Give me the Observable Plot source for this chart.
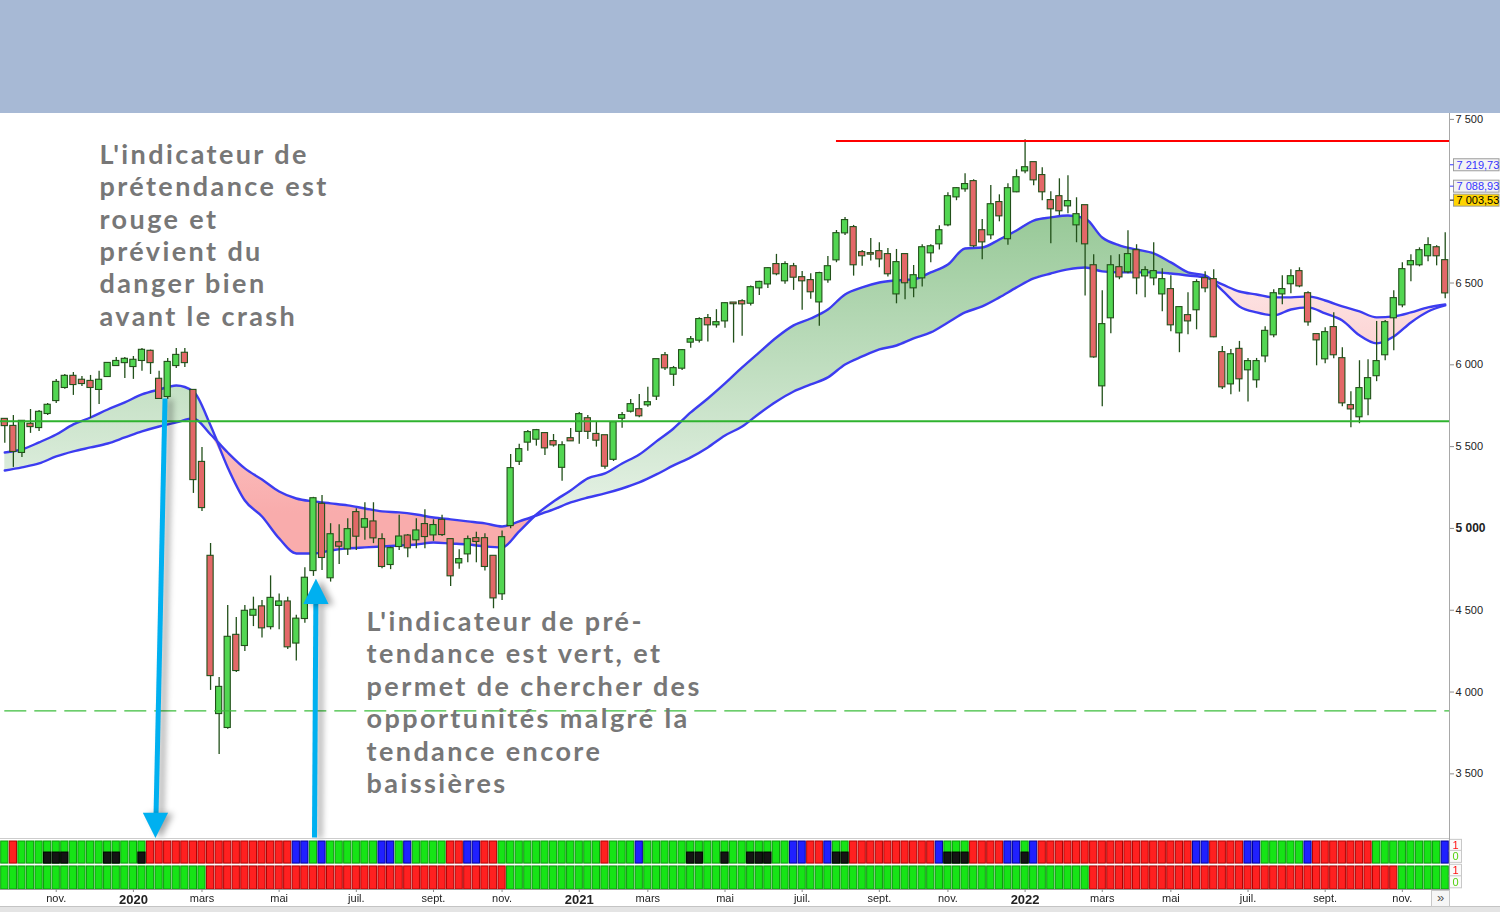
<!DOCTYPE html>
<html>
<head>
<meta charset="utf-8">
<script src="https://cdn.jsdelivr.net/npm/d3@7"></script>
<script src="https://cdn.jsdelivr.net/npm/@observablehq/plot@0.6"></script>
<style>
html,body{margin:0;padding:0;background:#fff;width:1500px;height:912px;overflow:hidden;font-family:"Liberation Sans",Arial,sans-serif}
#page{position:relative;width:1500px;height:912px}
#top{height:113px;background:#a7b9d5}
#main{height:724px}
#panel{height:69px}
#bottom{height:6px;background:#e4e4e4;border-top:1px solid #c4c4c4;box-sizing:border-box}
#vline{position:absolute;left:1449px;top:113px;width:1px;height:793px;background:#a8a8a8}
#hline{position:absolute;left:0;top:838px;width:1449px;height:1px;background:#cdcdcd}
#more{position:absolute;left:1431px;top:890px;width:17px;height:15px;border:1px solid #c8c8c8;background:#f6f6f6;color:#555;font-size:13px;line-height:13px;text-align:center}
svg{display:block}
</style>
</head>
<body>
<div id="page">
  <div id="top"></div>
  <div id="main"></div>
  <div id="panel"></div>
  <div id="bottom"></div>
  <div id="vline"></div>
  <div id="hline"></div>
  <div id="more">»</div>
</div>
<script>
// ---- weekly candles (CAC 40, from week of 23 Sept 2019), index = week number ----
const open = [5666,5623,5465,5636,5617,5703,5782,5862,5929,5905,5898,5850,5929,5996,6014,5990,6027,6082,5911,5807,5996,6070,5843,5403,4829,3869,3784,4346,4285,4470,4520,4400,4530,4550,4300,4450,4743,5147,4699,4912,4876,5096,5008,5039,4931,4780,4890,4953,4931,5023,4961,5049,4931,4790,4845,4937,4937,4829,4601,5018,5411,5528,5546,5579,5530,5374,5548,5594,5670,5574,5566,5423,5674,5717,5725,5756,5809,6055,5943,5980,6139,6151,6282,6245,6269,6377,6385,6377,6471,6495,6612,6514,6599,6532,6514,6385,6520,6642,6807,6838,6685,6679,6691,6673,6434,6673,6471,6532,6685,6740,6856,7027,7076,7119,6819,6795,6991,6771,7058,7186,7235,7156,7003,7027,6972,6856,6972,6605,5872,6288,6593,6569,6697,6544,6532,6434,6459,6196,6300,6337,6526,6520,6074,5884,6094,5970,5909,6055,6184,6434,6496,6569,6434,6184,6037,6227,6037,5750,5683,5793,5934,6062,6288,6367,6612,6612,6667,6715,6636];
const high = [5672,5690,5660,5727,5721,5764,5910,5941,5953,5929,5935,5960,6014,6045,6045,6051,6100,6090,5960,6039,6100,6100,5843,5495,4908,4089,4529,4456,4529,4580,4560,4710,4600,4580,4470,4760,5190,5202,5029,5023,5059,5120,5157,5157,4968,4886,5080,4963,5059,5114,5053,5080,4931,4870,4953,4977,4968,4829,4984,5452,5514,5599,5605,5585,5574,5530,5611,5709,5690,5650,5566,5646,5709,5788,5819,5863,6031,6076,5990,6094,6173,6288,6308,6337,6379,6377,6398,6481,6510,6595,6675,6630,6620,6571,6557,6565,6662,6821,6901,6852,6699,6772,6746,6711,6705,6673,6607,6734,6734,6850,7052,7082,7168,7131,6888,7096,7039,7107,7192,7376,7235,7204,7058,7137,7156,7021,6972,6673,6453,6666,6673,6819,6734,6599,6746,6587,6544,6355,6441,6520,6569,6581,6112,6094,6143,6039,6039,6233,6459,6544,6581,6593,6446,6184,6227,6318,6104,5835,6025,6031,6265,6271,6453,6624,6673,6715,6777,6728,6807];
const low = [5520,5373,5434,5581,5593,5690,5764,5850,5813,5868,5672,5758,5923,5990,5917,5911,5960,5941,5788,5788,5978,5984,5214,5104,4010,3619,3772,4120,4248,4400,4330,4380,4380,4260,4190,4420,4707,4743,4672,4780,4835,4865,4927,4907,4753,4748,4865,4821,4876,4876,4921,4951,4645,4750,4790,4790,4740,4509,4560,4998,5385,5472,5503,5446,5497,5289,5533,5515,5544,5497,5361,5409,5613,5705,5676,5741,5782,5966,5868,5966,6102,6133,6139,6224,6224,6133,6175,6359,6424,6467,6544,6493,6455,6334,6401,6236,6499,6624,6791,6542,6603,6634,6593,6536,6373,6398,6410,6475,6624,6701,6844,7003,7055,6716,6642,6765,6874,6731,7052,7168,7094,7003,6740,6911,6923,6746,6420,6040,5744,6190,6520,6557,6428,6410,6483,6324,6202,6074,6184,6214,6440,6166,5849,5817,5833,5772,5857,6013,6166,6367,6434,6471,6236,5994,6006,6037,5744,5615,5640,5689,5897,6025,6086,6349,6508,6599,6630,6605,6404];
const close = [5629,5471,5654,5623,5709,5752,5892,5929,5880,5886,5862,5905,6008,6020,6033,6027,6088,6014,5795,6014,6057,6014,5299,5128,4101,4028,4334,4132,4493,4499,4393,4572,4550,4277,4445,4695,5181,4823,4961,4892,4992,4953,5053,4943,4768,4876,4947,4882,4984,4951,5017,4963,4711,4809,4931,4921,4768,4576,4943,5365,5481,5585,5597,5493,5511,5505,5536,5695,5594,5540,5381,5646,5689,5756,5689,5768,6031,5982,5976,6086,6153,6276,6245,6257,6373,6374,6373,6471,6503,6587,6557,6612,6536,6514,6447,6557,6599,6801,6881,6612,6667,6677,6648,6557,6624,6502,6544,6715,6721,6819,7027,7076,7101,6728,6752,6978,6911,7076,7143,7204,7131,7058,6954,6942,6997,6917,6740,6049,6245,6605,6538,6673,6532,6575,6569,6520,6245,6349,6269,6502,6471,6172,5866,6061,5915,6019,6019,6204,6434,6459,6538,6483,6263,6153,6196,6062,5768,5731,5854,5915,6019,6257,6404,6581,6630,6697,6728,6667,6440];

// ---- the two blue averages, read every second week ----
const maWeek = [0,2,4,6,8,10,12,14,16,18,20,22,24,26,28,30,32,34,36,38,40,42,44,46,48,50,52,54,56,58,60,62,64,66,68,70,72,74,76,78,80,82,84,86,88,90,92,94,96,98,100,102,104,106,108,110,112,114,116,118,120,122,124,126,128,130,132,134,136,138,140,142,144,146,148,150,152,154,156,158,160,162,164,166,168];
const maFast = [5464,5483,5526,5574,5636,5678,5727,5770,5819,5849,5874,5837,5629,5373,5171,5073,4939,4847,4847,4865,4878,4884,4890,4896,4902,4914,4908,4902,4890,4884,4982,5085,5165,5232,5306,5336,5397,5452,5532,5611,5709,5794,5886,5984,6076,6167,6241,6283,6338,6430,6473,6503,6516,6522,6565,6613,6711,6717,6766,6821,6882,6901,6913,6895,6778,6730,6705,6681,6626,6565,6546,6455,6357,6320,6302,6338,6351,6314,6271,6180,6131,6173,6259,6326,6363];
const maSlow = [5354,5373,5397,5440,5471,5495,5519,5556,5593,5623,5648,5672,5574,5464,5367,5299,5226,5183,5165,5153,5141,5122,5104,5098,5085,5067,5055,5043,5031,5012,5043,5079,5116,5159,5189,5214,5244,5281,5330,5385,5434,5495,5568,5623,5703,5776,5837,5880,5923,6002,6051,6094,6118,6161,6198,6259,6320,6357,6412,6473,6528,6558,6583,6595,6571,6565,6565,6565,6558,6546,6534,6491,6448,6430,6412,6412,6418,6393,6357,6326,6290,6296,6320,6351,6369];

// ---- horizontal levels ----
const levelResistance = 7368;   // red line, from week 97
const levelSupport = 5655;      // green line
const levelLow = 3885;          // dashed green
const yTicks = [3500,4000,4500,5000,5500,6000,6500,7500];
const priceLabels = [7219.73, 7088.93, 7003.53];
const priceLabelText = ["#3535ff", "#3535ff", "#000000"];
const priceLabelBg = ["#f3f3f3", "#f3f3f3", "#ffd400"];

// ---- x ticks (first week of the month) ----
const tickWeeks = [6,15,23,32,41,50,58,67,75,84,93,102,110,119,128,136,145,154,163];
const tickLabels = ["nov.","2020","mars","mai","juil.","sept.","nov.","2021","mars","mai","juil.","sept.","nov.","2022","mars","mai","juil.","sept.","nov."];

// ---- indicator rows (run lengths): g green, r red, b blue, k green/black ----
const row1Runs = [["g",1],["r",1],["g",3],["k",3],["g",4],["k",2],["g",2],["k",1],["r",17],["b",2],["g",1],["b",1],["g",6],["b",2],["g",1],["b",1],["g",4],["r",2],["b",2],["r",2],["g",12],["r",1],["g",3],["b",1],["g",5],["k",2],["g",2],["k",1],["g",2],["k",3],["g",2],["b",2],["r",2],["b",1],["k",2],["r",10],["b",1],["k",3],["r",4],["b",2],["k",1],["b",1],["r",18],["b",2],["r",4],["b",2],["g",5],["b",1],["r",7],["g",8],["b",1]];
const row2Runs = [["g",24],["r",35],["g",68],["r",36],["g",6]];

// ---- annotations ----
const notes = [
  {w: 11.05, v: 7369, t: "L'indicateur de\nprétendance est\nrouge et\nprévient du\ndanger bien\navant le crash"},
  {w: 42.2, v: 4514, t: "L'indicateur de pré-\ntendance est vert, et\npermet de chercher des\nopportunités malgré la\ntendance encore\nbaissières"}
];
const arrows = [
  {w1: 18.69, v1: 5794, w2: 17.64, v2: 3250, hw: 17.58, hv: 3195, head: "▼"},
  {w1: 36.12, v1: 3111, w2: 36.28, v2: 4540, hw: 36.3, hv: 4625, head: "▲"}
];

// ================= build =================
const fr = d3.formatLocale({decimal: ",", thousands: "\u00a0", grouping: [3], currency: ["", " €"]});
const fmtInt = fr.format(",d");
const fmtDec = fr.format(",.2f");

const candles = open.map((o, i) => ({i, o, h: high[i], l: low[i], c: close[i]}));
const ma = maWeek.map((w, k) => ({i: w, fast: maFast[k], slow: maSlow[k]}));
const expand = runs => runs.flatMap(([s, n]) => Array.from({length: n}, () => s));
const row1 = expand(row1Runs), row2 = expand(row2Runs);

const GREEN = "#52d652", RED = "#e36868", EDGE = "#22501a";
const font = "'Liberation Sans', Arial, sans-serif";

const main = Plot.plot({
  width: 1500, height: 724,
  marginLeft: 0, marginRight: 51, marginTop: 0, marginBottom: 0,
  x: {domain: [-0.5, 168.5], axis: null},
  y: {domain: [3111, 7536]},
  color: {type: "identity"},
  style: {fontFamily: font, fontSize: "11px", color: "#222", background: "transparent", overflow: "visible"},
  marks: [
    Plot.areaY(ma, {x: "i", y1: "slow", y2: d => Math.max(d.fast, d.slow), fill: "url(#gradGreen)", curve: "monotone-x"}),
    Plot.areaY(ma, {x: "i", y1: "slow", y2: d => Math.min(d.fast, d.slow), fill: "url(#gradRed)", curve: "monotone-x"}),
    Plot.line(ma, {x: "i", y: "fast", stroke: "#3c3cf0", strokeWidth: 2.4, curve: "monotone-x"}),
    Plot.line(ma, {x: "i", y: "slow", stroke: "#3c3cf0", strokeWidth: 2.4, curve: "monotone-x"}),
    Plot.ruleX(candles, {x: "i", y1: "l", y2: "h", stroke: EDGE, strokeWidth: 1.3}),
    Plot.rect(candles, {x1: d => d.i - 0.36, x2: d => d.i + 0.36, y1: "o", y2: "c",
      fill: d => d.c >= d.o ? GREEN : RED, stroke: EDGE, strokeWidth: 1.1, insetTop: -0.6, insetBottom: -0.6}),
    Plot.ruleY([levelSupport], {stroke: "#2fb32f", strokeWidth: 2.2}),
    Plot.ruleY([levelLow], {x1: 0, x2: 168.5, stroke: "#3cbd3c", strokeWidth: 1.2, strokeDasharray: "22,8"}),
    Plot.ruleY([levelResistance], {x1: 97, x2: 168.5, stroke: "#ff0000", strokeWidth: 2.2}),
    Plot.axisY(yTicks, {anchor: "right", tickSize: 4, tickPadding: 2, tickFormat: fmtInt, stroke: "#8c8c8c", fill: "#222", fontSize: 11}),
    Plot.text(priceLabels, {frameAnchor: "right", y: d => d, text: d => fmtDec(d), dx: 7, textAnchor: "start",
      fill: (d, k) => priceLabelText[k], fontSize: 11, ariaDescription: "price labels"}),
    Plot.link(arrows, {x1: "w1", y1: "v1", x2: "w2", y2: "v2", stroke: "#00b0f0", strokeWidth: 5, ariaDescription: "arrow shafts"}),
    Plot.text(arrows, {x: "hw", y: "hv", text: "head", fill: "#00b0f0", fontSize: 33, fontFamily: "DejaVu Sans", ariaDescription: "arrow heads"}),
    Plot.text(notes, {x: "w", y: "v", text: "t", textAnchor: "start", lineAnchor: "top", lineHeight: 1.2,
      fontSize: 27, fontWeight: 700, fill: "#777777", fontFamily: "Lato, sans-serif", ariaDescription: "notes"})
  ]
});
document.getElementById("main").appendChild(main);

// gradients
const sel = d3.select(main);
const defs = sel.insert("defs", ":first-child");
const gg = defs.append("linearGradient").attr("id", "gradGreen").attr("gradientUnits", "userSpaceOnUse")
  .attr("x1", 0).attr("x2", 0).attr("y1", 102).attr("y2", 432);
gg.append("stop").attr("offset", 0).attr("stop-color", "#98c998");
gg.append("stop").attr("offset", 1).attr("stop-color", "#eef6ee");
const gr = defs.append("linearGradient").attr("id", "gradRed").attr("gradientUnits", "userSpaceOnUse")
  .attr("x1", 0).attr("x2", 0).attr("y1", 170).attr("y2", 400);
gr.append("stop").attr("offset", 0).attr("stop-color", "#fde3e3");
gr.append("stop").attr("offset", 1).attr("stop-color", "#f9acac");

// bold 5 000
sel.selectAll("text").filter(function() { return this.textContent === fmtInt(5000); })
  .attr("font-weight", "bold").attr("font-size", 12);

sel.selectAll('g[aria-description="notes"]').style("letter-spacing", "2.4px");

// boxes behind small labels (positions taken from the rendered texts)
const ns = "http://www.w3.org/2000/svg";
function boxBehind(svg, groupSel, fills, strokes, tickColors, toRight) {
  const sr = svg.getBoundingClientRect();
  const group = svg.querySelector(groupSel);
  if (!group) return;
  const layer = document.createElementNS(ns, "g");
  group.parentNode.insertBefore(layer, group);
  group.querySelectorAll("text").forEach((t, k) => {
    const b = t.getBoundingClientRect();
    const x = b.left - sr.left - 3, y = b.top - sr.top;
    const r = document.createElementNS(ns, "rect");
    r.setAttribute("x", x); r.setAttribute("y", y);
    r.setAttribute("width", toRight ? (sr.width - 1 - x) : b.width + 6);
    r.setAttribute("height", b.height);
    r.setAttribute("fill", fills[k]); r.setAttribute("stroke", strokes);
    layer.appendChild(r);
    if (tickColors) {
      const l = document.createElementNS(ns, "line");
      l.setAttribute("x1", 1449); l.setAttribute("x2", x);
      l.setAttribute("y1", y + b.height / 2); l.setAttribute("y2", y + b.height / 2);
      l.setAttribute("stroke", tickColors[k]);
      layer.appendChild(l);
    }
  });
}
boxBehind(main, 'g[aria-description="price labels"]', priceLabelBg, "#9c9c9c", priceLabelText, true);
sel.selectAll('g[aria-description="arrow shafts"], g[aria-description="arrow heads"]')
  .style("filter", "drop-shadow(5px 1px 3px rgba(0,0,0,0.35))");

// ---- indicator panel ----
const fillOf = {g: "#16e416", k: "#16e416", r: "#ff2020", b: "#2020ff"};
const edgeOf = {g: "#0a9a0a", k: "#0a9a0a", r: "#b00000", b: "#00009a"};
const cells = [];
row1.forEach((s, i) => cells.push({i, top: 0, bot: 0.92, s}));
row2.forEach((s, i) => cells.push({i, top: 1.04, bot: 2, s}));
const blacks = row1.map((s, i) => ({i, s})).filter(d => d.s === "k");
const flags = [
  {y: 0.18, t: "1", c: "#ff1010"}, {y: 0.64, t: "0", c: "#55d010"},
  {y: 1.22, t: "1", c: "#ff1010"}, {y: 1.7, t: "0", c: "#55d010"}
];

const panel = Plot.plot({
  width: 1500, height: 69,
  marginLeft: 0, marginRight: 51, marginTop: 0, marginBottom: 17,
  x: {domain: [-0.5, 168.5]},
  y: {domain: [0, 2], range: [4, 52], axis: null},
  color: {type: "identity"},
  style: {fontFamily: font, fontSize: "11px", color: "#222", background: "transparent", overflow: "visible"},
  marks: [
    Plot.rect(cells, {x1: d => d.i - 0.42, x2: d => d.i + 0.42, y1: "top", y2: "bot",
      fill: d => fillOf[d.s], stroke: d => edgeOf[d.s], strokeWidth: 1}),
    Plot.rect(blacks, {x1: d => d.i - 0.42, x2: d => d.i + 0.42, y1: () => 0.46, y2: () => 0.92,
      fill: "#141414", stroke: "#000", strokeWidth: 1}),
    Plot.ruleY([2], {stroke: "#9a9a9a"}),
    Plot.axisX(tickWeeks, {tickSize: 3, tickPadding: 2, stroke: "#8c8c8c", fill: "#222", fontSize: 11,
      tickFormat: d => tickLabels[tickWeeks.indexOf(d)]}),
    Plot.text(flags, {frameAnchor: "right", y: "y", text: "t", fill: "c", dx: 9, fontSize: 11, ariaDescription: "flags"})
  ]
});
document.getElementById("panel").appendChild(panel);
const psel = d3.select(panel);
psel.selectAll("text").filter(function() { return /^\d{4}$/.test(this.textContent); })
  .attr("font-weight", "bold").attr("font-size", 13);
boxBehind(panel, 'g[aria-description="flags"]', ["#fafafa","#fafafa","#fafafa","#fafafa"], "#c8c8c8", null, false);
</script>
</body>
</html>
